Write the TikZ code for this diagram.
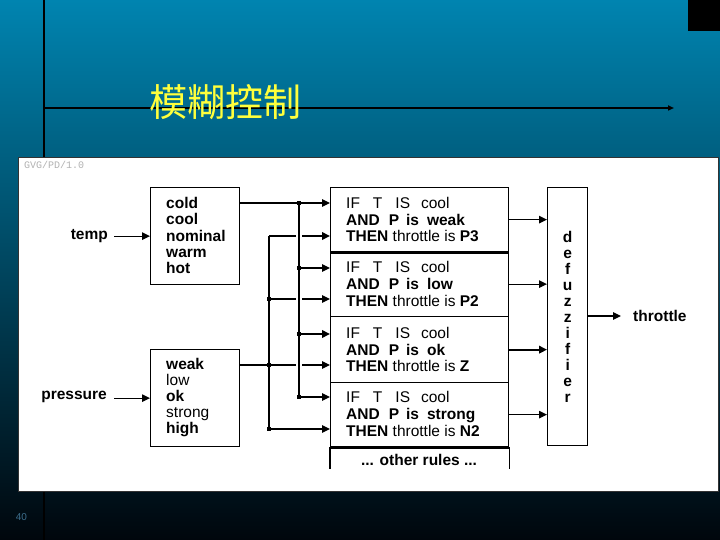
\documentclass[tikz,border=0pt]{standalone}
\usepackage{fontspec}
\setmainfont{Liberation Sans}
\newfontfamily\cjkfont{Noto Sans CJK TC}
\newfontfamily\monofnt{Liberation Mono}
\usetikzlibrary{arrows.meta}
\definecolor{bgtop}{RGB}{0,132,176}
\definecolor{bgmid}{RGB}{0,72,100}
\definecolor{bgbot}{RGB}{0,6,12}
\definecolor{titleyellow}{RGB}{255,255,60}
\definecolor{pagenum}{RGB}{60,110,140}
\newcommand\rulelines[2]{{\mdseries IF\hspace{13bp}T\hspace{13bp}IS\hspace{11bp}cool}\\AND\hspace{9bp}P\hspace{7bp}is\hspace{8bp}#1\\THEN {\mdseries throttle is} #2}
\tikzset{
  wire/.style={line width=1.1bp, black},
  arr/.style={wire, -{Triangle[length=8bp,width=7.5bp]}},
  boxst/.style={draw, line width=1.3bp, fill=white, inner sep=0pt},
  lbl/.style={font=\fontsize{15.5bp}{16bp}\selectfont\bfseries, inner sep=0pt},
  list/.style={align=left, inner sep=0pt, font=\fontsize{15.5bp}{16.2bp}\selectfont\bfseries},
  ruletxt/.style={align=left, inner sep=0pt, font=\fontsize{15.5bp}{16.8bp}\selectfont\bfseries},
}
\begin{document}
\begin{tikzpicture}[x=1bp,y=-1bp]
\useasboundingbox (0,0) rectangle (720,540);
\shade[top color=bgtop, middle color=bgmid, bottom color=bgbot] (0,0) rectangle (720,540);
\fill[black] (688,0) rectangle (720,31);
\draw[line width=2bp] (43.5,0) -- (43.5,540);
\coordinate (hl0) at (43.5,108);
\coordinate (hl1) at (674,108);
\draw[line width=2.2bp, -{Triangle[length=6bp,width=5bp]}] (hl0) -- (hl1);
\node[text=titleyellow, font=\cjkfont\fontsize{38bp}{40bp}\selectfont, inner sep=0pt] (title) at (225.5,102.5) {模糊控制};
\fill[white, draw=black!80, line width=0.8bp] (18,157) rectangle (718,491);
\node[font=\monofnt\fontsize{10bp}{10bp}\selectfont, text=black!30, anchor=west, inner sep=0pt] (ver) at (24,165) {GVG/PD/1.0};
\node[font=\fontsize{10bp}{10bp}\selectfont, text=pagenum, inner sep=0pt] (pg) at (21.5,517) {40};

% input boxes
\node[boxst, anchor=north west, minimum width=89bp, minimum height=97bp] (b1) at (150,187) {};
\node[list, anchor=west] (b1t) at (166,235.5) {cold\\cool\\nominal\\warm\\hot};
\node[boxst, anchor=north west, minimum width=89bp, minimum height=97bp] (b2) at (150,349) {};
\node[list, anchor=west] (b2t) at (166,397.5) {weak\\{\mdseries low}\\ok\\{\mdseries strong}\\high};
\node[lbl, anchor=east] (temp) at (108,236) {temp};
\node[lbl, anchor=east] (pres) at (107,397) {pressure};
\draw[arr, shorten <=6bp] (temp.east |- b1.west) -- (b1.west);
\draw[arr, shorten <=7bp] (pres.east |- b2.west) -- (b2.west);

% rule boxes
\node[boxst, anchor=north west, minimum width=178bp, minimum height=64bp] (r1) at (330,187) {};
\node[boxst, anchor=north west, minimum width=178bp, minimum height=65bp] (r2) at (330,251) {};
\node[boxst, anchor=north west, minimum width=178bp, minimum height=66bp] (r3) at (330,316) {};
\node[boxst, anchor=north west, minimum width=178bp, minimum height=64bp] (r4) at (330,382) {};
\node[ruletxt, anchor=west] (r1t) at (346,219.5) {\rulelines{weak}{P3}};
\node[ruletxt, anchor=west] (r2t) at (346,284) {\rulelines{low}{P2}};
\node[ruletxt, anchor=west] (r3t) at (346,349.5) {\rulelines{ok}{Z}};
\node[ruletxt, anchor=west] (r4t) at (346,414) {\rulelines{strong}{N2}};
\draw[line width=2.5bp] (r1.south west) -- (r1.south east);
\draw[line width=2.5bp] (r4.south west) -- (r4.south east);
\draw[line width=1.3bp] (r4.south west) -- ++(0,22);
\draw[line width=1.3bp] (r4.south east) -- ++(0,22);
\node[lbl] (other) at (419,460) {... other rules ...};

% defuzzifier
\node[boxst, anchor=north west, minimum width=40bp, minimum height=258bp, align=center,
      font=\fontsize{15.5bp}{16bp}\selectfont\bfseries] (dz) at (547,187) {d\\e\\f\\u\\z\\z\\i\\f\\i\\e\\r};
\node[lbl, anchor=west] (thr) at (633,316) {throttle};
\draw[arr, shorten >=12bp] (dz.east |- thr.west) -- (thr.west);
\draw[arr] (r1.east) -- (r1.east -| dz.west);
\draw[arr] (r2.east) -- (r2.east -| dz.west);
\draw[arr, line width=2bp] (r3.east) -- (r3.east -| dz.west);
\draw[arr] (r4.east) -- (r4.east -| dz.west);

% wiring
\coordinate (jT1) at (299,203);
\coordinate (jT2) at (299,268);
\coordinate (jT3) at (299,334);
\coordinate (jT4) at (299,397);
\coordinate (jP1) at (269,236);
\coordinate (jP2) at (269,299);
\coordinate (jP3) at (269,365);
\coordinate (jP4) at (269,429);
\draw[arr] (b1.east |- jT1) -- (jT1 -| r1.west);
\draw[arr, line width=2bp] (jP1) -- (jP1 -| r1.west);
\draw[arr] (jT2) -- (jT2 -| r2.west);
\draw[arr] (jP2) -- (jP2 -| r2.west);
\draw[arr, line width=2bp] (jT3) -- (jT3 -| r3.west);
\draw[arr] (b2.east |- jP3) -- (jP3 -| r3.west);
\draw[arr] (jT4) -- (jT4 -| r4.west);
\draw[arr] (jP4) -- (jP4 -| r4.west);
\foreach \c in {jP1,jP2,jP3} \fill[white] (\c -| jT1) ++(-3,-2.5) rectangle ++(6,5);
\draw[wire] (jT1) -- (jT4);
\draw[wire] (jP1) -- (jP4);
\foreach \c in {jT1,jT2,jT3,jT4,jP2,jP3,jP4} \fill (\c) ++(-1.8,-1.8) rectangle ++(3.6,3.6);
\end{tikzpicture}
\end{document}
